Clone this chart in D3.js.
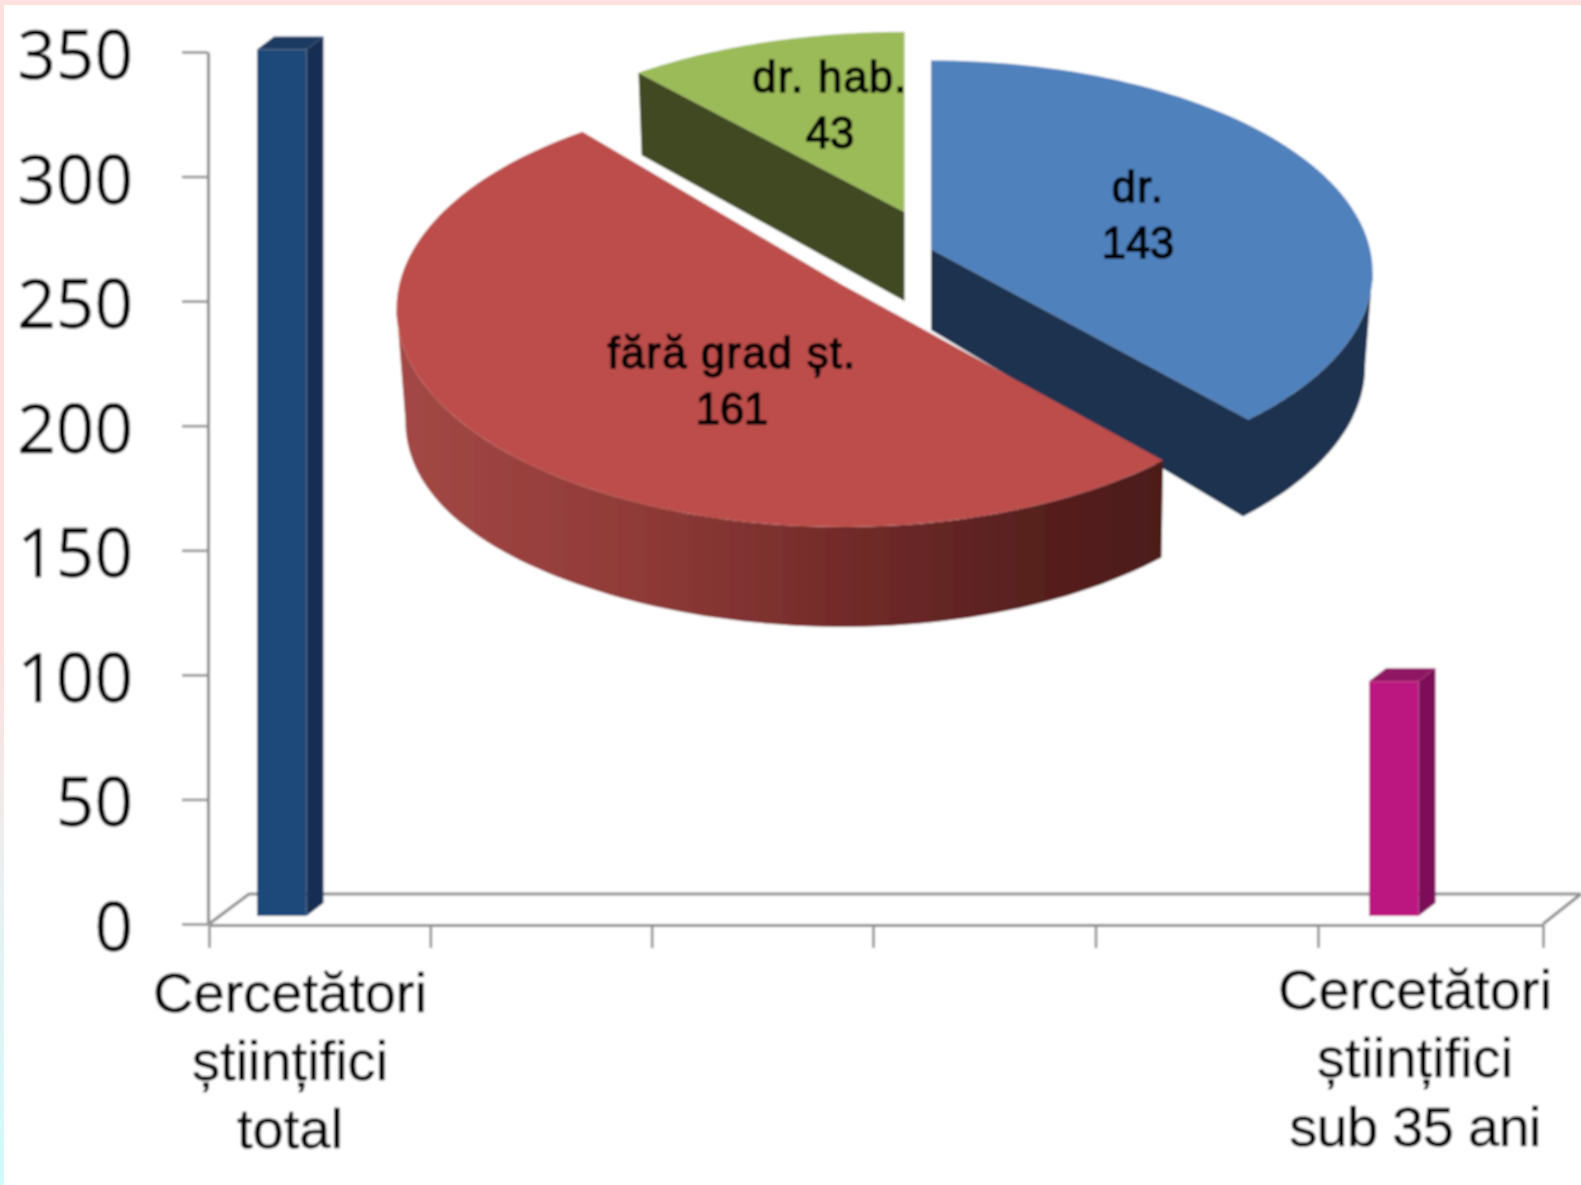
<!DOCTYPE html>
<html><head><meta charset="utf-8">
<script src="https://cdnjs.cloudflare.com/ajax/libs/d3/7.8.5/d3.min.js"></script>
<style>html,body{margin:0;padding:0;background:#fff;overflow:hidden}svg{display:block}</style>
</head><body><svg id="c" width="1581" height="1185"></svg>
<script>
// ---- data ----
const barCategories = [["Cercetători","științifici","total"],["Cercetători","științifici","sub 35 ani"]];
const barSlots = [0,5];
const barValues = [347,94];
const barColors = [{front:"#1F4879",side:"#172F52",top:"#1A3A63"},{front:"#BC1880",side:"#7D1058",top:"#8F1263"}];
const yTicks = [0,50,100,150,200,250,300,350];
const pieNames = ["dr.","fără grad șt.","dr. hab."];
const pieValues = [143,161,43];

// ---- layout ----
const W=1581,H=1185;
const svg=d3.select("#c");
const defs=svg.append("defs");
const edge=defs.append("linearGradient").attr("id","edge").attr("x1",0).attr("x2",0).attr("y1",0).attr("y2",1);
[[0,"#fde0e0"],[.55,"#fde0e0"],[.75,"#e9f0f0"],[1,"#d0fafb"]].forEach(s=>edge.append("stop").attr("offset",s[0]).attr("stop-color",s[1]));
const wallGrad=defs.append("linearGradient").attr("id","wall").attr("gradientUnits","userSpaceOnUse").attr("x1",400).attr("x2",1165).attr("y1",0).attr("y2",0);
[[0,"#A34845"],[.3,"#903B38"],[.55,"#762D2B"],[.8,"#5A2120"],[1,"#4C1B19"]].forEach(s=>wallGrad.append("stop").attr("offset",s[0]).attr("stop-color",s[1]));
defs.append("filter").attr("id","soft").attr("x",0).attr("y",0).attr("width",1).attr("height",1).attr("filterUnits","objectBoundingBox")
  .append("feGaussianBlur").attr("stdDeviation",0.8);

svg.append("rect").attr("width",W).attr("height",H).attr("fill","#fff");
svg.append("rect").attr("width",W).attr("height",5).attr("fill","#fde0e0");
svg.append("rect").attr("width",4).attr("height",H).attr("fill","url(#edge)");

const g=svg.append("g").attr("filter","url(#soft)");
g.append("rect").attr("x",4).attr("y",5).attr("width",W-4).attr("height",H-5).attr("fill","#fff");

const AXIS="#909090";
const y=d3.scaleLinear().domain([0,350]).range([924,52]);        // back wall axis
const yFront=d3.scaleLinear().domain([0,350]).range([916,42]);   // front plane of bars
const xSlot=d3.scaleLinear().domain([0,3,5,6]).range([209,873,1318,1543]);
const barX=d3.scaleLinear().domain([0,5]).range([257,1369]);
const barW=49.5;
const depth={dx:17,dy:-13};

// floor
g.append("path").attr("fill","none").attr("stroke",AXIS).attr("stroke-width",3.2)
  .attr("d",d3.line()([[xSlot(0),y(0)],[xSlot(0)+40,894],[W,894]]));
g.append("path").attr("fill","none").attr("stroke",AXIS).attr("stroke-width",3.2)
  .attr("d",d3.line()([[xSlot(6),y(0)],[W,894]]));

// y axis
const ya=g.append("g").attr("transform","translate(208,0)")
  .call(d3.axisLeft(y).tickValues(yTicks).tickSize(26).tickPadding(49).tickSizeOuter(0));
ya.select(".domain").attr("stroke",AXIS).attr("stroke-width",3.2);
ya.selectAll("line").attr("stroke",AXIS).attr("stroke-width",2.6);
ya.selectAll("text").attr("font-family","'Open Sans'").attr("font-size",67.5).attr("fill","#000")
  .attr("stroke","#000").attr("stroke-width",0.3).attr("dy",26.5);

// x axis
const xa=g.append("g").attr("transform","translate(0,925)")
  .call(d3.axisBottom(xSlot).tickValues([0,1,2,3,4,5,6]).tickSize(23).tickFormat("").tickSizeOuter(0));
xa.select(".domain").attr("stroke",AXIS).attr("stroke-width",3.2);
xa.selectAll("line").attr("stroke",AXIS).attr("stroke-width",2.6);

// bars
const bars=g.selectAll("g.bar").data(barValues).join("g").attr("class","bar");
bars.each(function(v,i){
  const b=d3.select(this), x0=barX(barSlots[i]), x1=x0+barW, yT=yFront(v), yB=yFront(0), c=barColors[i];
  const L=d3.line();
  b.append("path").attr("fill",c.side).attr("d",L([[x1,yT],[x1+depth.dx,yT+depth.dy],[x1+depth.dx,yB+depth.dy],[x1,yB]])+"Z");
  b.append("path").attr("fill",c.top).attr("d",L([[x0,yT],[x0+depth.dx,yT+depth.dy],[x1+depth.dx,yT+depth.dy],[x1,yT]])+"Z");
  b.append("rect").attr("x",x0).attr("y",yT).attr("width",barW).attr("height",yB-yT).attr("fill",c.front);
});

// category labels
const labelPos=[{cx:290,y:1011.5},{cx:1415,y:1009}];
const catG=g.selectAll("text.cat").data(barCategories).join("text").attr("class","cat")
  .attr("text-anchor","middle").attr("font-family","'Liberation Sans'").attr("font-size",56).attr("fill","#000")
  .attr("stroke","#000").attr("stroke-width",0.5);
catG.each(function(lines,i){
  d3.select(this).selectAll("tspan").data(lines).join("tspan")
    .attr("x",labelPos[i].cx).attr("y",(d,j)=>labelPos[i].y+j*68.4)
    .attr("letter-spacing",d=>/\d/.test(d)?-0.7:null).text(d=>d);
});

// pie (3D projection of a unit disc)
const deg=Math.PI/180;
const arcs=d3.pie().sort(null)(pieValues);
const warp=d3.scaleLinear()
  .domain([0,arcs[0].endAngle,arcs[1].endAngle,2*Math.PI])
  .range([0,138.4*deg,320.5*deg,360*deg]);
const R=439,S=209.2,K=0.1095;
const slices=[
  {x:931,y:249,sx:1,sy:1,shrink:()=>.983,startOff:0,
   drop:(u,v,r)=>81+r*(12+5.5*v)},
  {x:842.5,y:285,sx:1.01,sy:1.03,shrink:u=>u>0?.995:.98,startOff:0,
   drop:(u,v,r)=>88+12*Math.max(0,v)+23*Math.pow(Math.max(0,-u),3)},
  {x:904.5,y:212,sx:1,sy:.955,shrink:()=>.988,startOff:-1.5*deg,
   drop:(u,v,r)=>89+r*8.6*v}
];
function tp(c,t,r=1){const u=r*Math.sin(t),v=-r*Math.cos(t),w=1-K*v;return [c.x+c.sx*R*u/w,c.y+c.sy*S*v/w];}
function bt(c,t,r=1){const p=tp(c,t,r),u=r*Math.sin(t),v=-r*Math.cos(t);
  return [c.x+(p[0]-c.x)*c.shrink(u),p[1]+c.drop(u,v,r)];}
function ring(f,c,a,b){const n=80;return d3.range(n+1).map(i=>f(c,a+(b-a)*i/n));}
const line=d3.line();
const COL={top:["#4F81BD","#BD4E4B","#9BBB59"],wall:["#1F3350","url(#wall)","#3F4A20"]};
const pieG=g.append("g");
[2,0,1].forEach(i=>{
  const d=arcs[i],c=slices[i],a0=warp(d.startAngle)+c.startOff,a1=warp(d.endAngle);
  let wall;
  if(i===0) wall=[tp(c,0,0),bt(c,0,0),...ring(bt,c,a1,96*deg),...ring(tp,c,96*deg,a1)];
  if(i===1) wall=[...ring(tp,c,a0,264*deg),...ring(bt,c,264*deg,a0)];
  if(i===2) wall=[tp(c,a0),tp(c,0,0),bt(c,0,0),bt(c,a0)];
  pieG.append("path").attr("fill",COL.wall[i]).attr("d",line(wall)+"Z");
  pieG.append("path").attr("fill",COL.top[i]).attr("d",line([tp(c,0,0),...ring(tp,c,a0,a1)])+"Z");
});

// pie labels
const pieLabelPos=[{x:1138,y:202},{x:732,y:368},{x:830,y:92}];
g.selectAll("text.pl").data(pieNames).join("text").attr("class","pl")
  .attr("text-anchor","middle").attr("font-family","'Liberation Sans'").attr("font-size",43.5).attr("fill","#000")
  .attr("stroke","#000").attr("stroke-width",1.5)
  .each(function(name,i){
    const t=d3.select(this);
    t.append("tspan").attr("x",pieLabelPos[i].x).attr("y",pieLabelPos[i].y).attr("letter-spacing",1.3).text(name);
    t.append("tspan").attr("x",pieLabelPos[i].x).attr("y",pieLabelPos[i].y+55.5).text(pieValues[i]);
  });
</script></body></html>
